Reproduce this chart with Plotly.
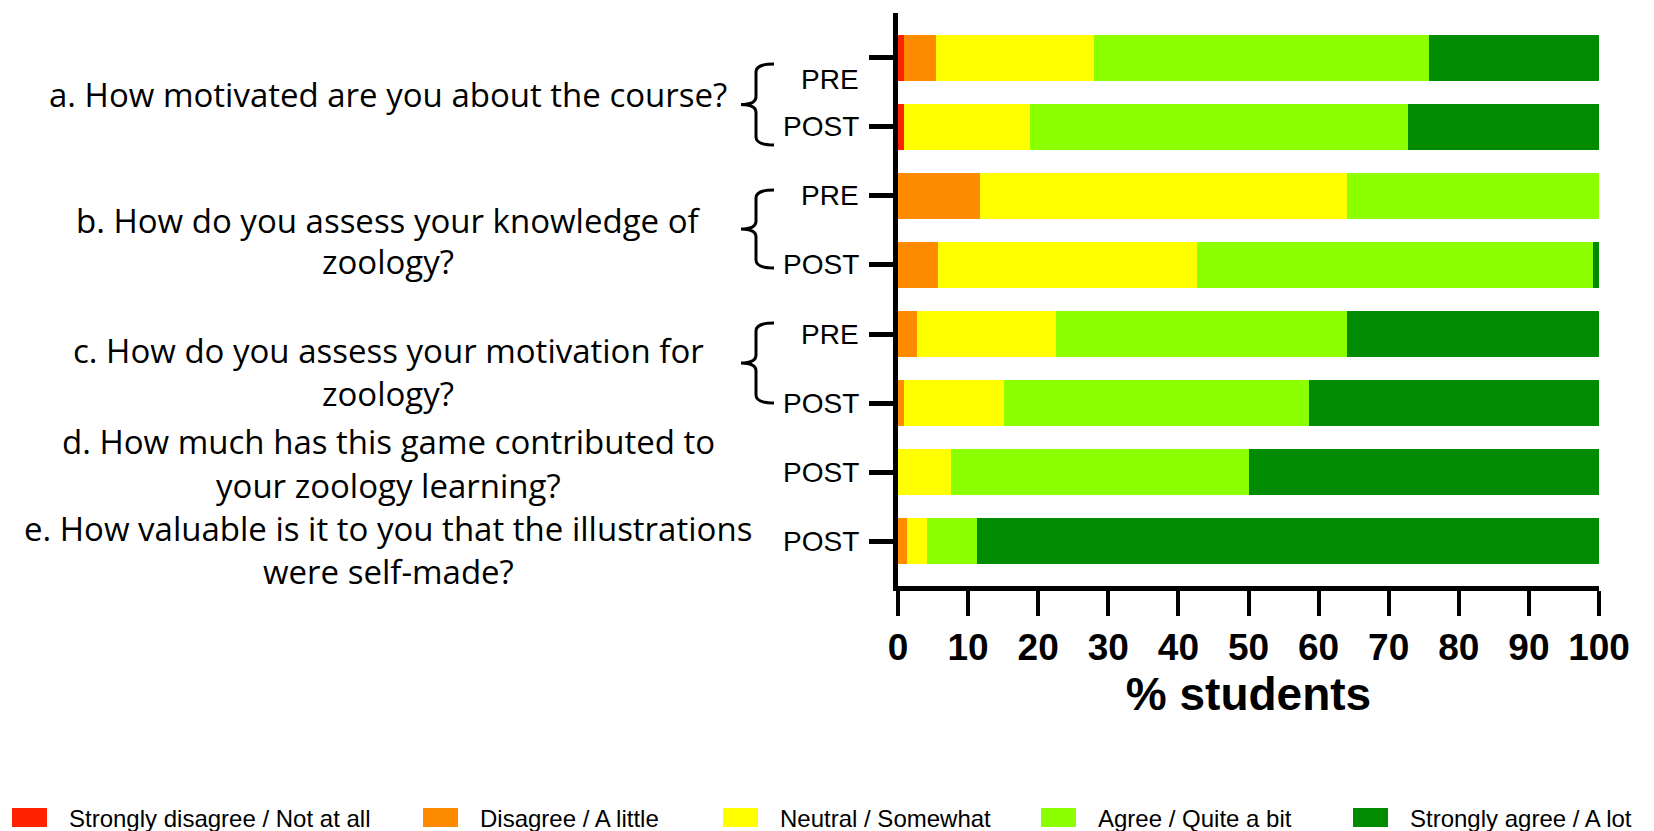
import plotly.graph_objects as go

# rows of the chart, top to bottom
rows = ["a PRE", "a POST", "b PRE", "b POST", "c PRE", "c POST", "d POST", "e POST"]
time_labels = ["PRE", "POST", "PRE", "POST", "PRE", "POST", "POST", "POST"]

categories = [
    "Strongly disagree / Not at all",
    "Disagree / A little",
    "Neutral / Somewhat",
    "Agree / Quite a bit",
    "Strongly agree / A lot",
]
colors = ["#FF2200", "#FF8C00", "#FFFF00", "#8CFF00", "#008B00"]

strongly_disagree = [0.8, 0.9, 0, 0, 0, 0, 0, 0]
disagree = [4.6, 0, 11.7, 5.7, 2.7, 0.85, 0, 1.3]
neutral = [22.5, 17.9, 52.3, 36.9, 19.8, 14.25, 7.5, 2.9]
agree = [47.8, 53.9, 36.0, 56.5, 41.5, 43.5, 42.5, 7.0]
strongly_agree = [24.3, 27.3, 0, 0.9, 36.0, 41.4, 50.0, 88.8]

questions = [
    ["a. How motivated are you about the course?"],
    ["b. How do you assess your knowledge of", "zoology?"],
    ["c. How do you assess your motivation for", "zoology?"],
    ["d. How much has this game contributed to", "your zoology learning?"],
    ["e. How valuable is it to you that the illustrations", "were self-made?"],
]

series = [strongly_disagree, disagree, neutral, agree, strongly_agree]

W, H = 1654, 831
L, R, T, B = 890, 63, 5, 253
PW, PH = W - L - R, H - T - B


def px_x(px):
    return (px - L) / PW


def px_y(py):
    return (H - B - py) / PH


fig = go.Figure()
for name, vals, col in zip(categories, series, colors):
    fig.add_trace(go.Bar(
        y=rows, x=vals, name=name, orientation="h",
        marker=dict(color=col, line=dict(width=0)),
        showlegend=False,
    ))

# PRE / POST labels
for i, (r, t) in enumerate(zip(rows, time_labels)):
    fig.add_annotation(
        x=px_x(853), xref="paper", y=r, yref="y",
        text=t, showarrow=False, xanchor="right", yanchor="middle",
        yshift=-22 if i == 0 else 0,
        font=dict(family="Liberation Sans", size=28, color="black"),
    )

# question text, one annotation per line
line_y = [[87], [212, 253], [343, 385], [433, 477], [520, 563]]
for q, ys in zip(questions, line_y):
    for txt, py in zip(q, ys):
        fig.add_annotation(
            x=px_x(380), xref="paper", y=px_y(py), yref="paper",
            text=txt, showarrow=False, xanchor="center", yanchor="middle",
            font=dict(family="Open Sans", size=33, color="black"),
        )

# curly braces for the PRE/POST pairs
def brace(top, bot, tip_x=733, spine_x=748, end_x=766, r=8):
    mid = (top + bot) / 2
    pts = [
        ("M", end_x, top),
        ("Q", spine_x, top, spine_x, top + r),
        ("L", spine_x, mid - r),
        ("Q", spine_x, mid, tip_x, mid),
        ("Q", spine_x, mid, spine_x, mid + r),
        ("L", spine_x, bot - r),
        ("Q", spine_x, bot, end_x, bot),
    ]
    out = []
    for p in pts:
        cmd, coords = p[0], p[1:]
        xy = []
        for k in range(0, len(coords), 2):
            xy.append(f"{px_x(coords[k]):.5f},{px_y(coords[k + 1]):.5f}")
        out.append(cmd + " ".join(xy))
    return " ".join(out)


for top, bot in [(56, 137), (182, 260), (315, 395)]:
    fig.add_shape(type="path", path=brace(top, bot), xref="paper", yref="paper",
                  line=dict(color="black", width=3))

# legend drawn by hand
leg_sq = [4, 415, 715, 1033, 1345]
for name, col, x0 in zip(categories, colors, leg_sq):
    fig.add_shape(type="rect", xref="paper", yref="paper",
                  x0=px_x(x0), x1=px_x(x0 + 35), y0=px_y(819), y1=px_y(800),
                  fillcolor=col, line=dict(width=0))
    fig.add_annotation(
        x=px_x(x0 + 55), xref="paper", y=px_y(811), yref="paper",
        text=name, showarrow=False, xanchor="left", yanchor="middle",
        font=dict(family="Liberation Sans", size=24, color="black"),
    )

fig.update_layout(
    barmode="stack",
    bargap=0.333,
    width=W, height=H,
    margin=dict(l=L, r=R, t=T, b=B, pad=0),
    plot_bgcolor="white",
    paper_bgcolor="white",
    font=dict(family="Liberation Sans", color="black"),
    xaxis=dict(
        range=[0, 100],
        tickvals=list(range(0, 101, 10)),
        ticks="outside", ticklen=25, tickwidth=4, tickcolor="black",
        showline=True, linewidth=5, linecolor="black",
        showgrid=False, zeroline=False,
        tickfont=dict(family="Liberation Sans", size=37, weight="bold", color="black"),
        title=dict(text="% students", standoff=12,
                   font=dict(family="Liberation Sans", size=46, weight="bold", color="black")),
    ),
    yaxis=dict(
        categoryorder="array", categoryarray=rows,
        range=[7.65, -0.65],
        ticks="outside", ticklen=24, tickwidth=5, tickcolor="black",
        showline=True, linewidth=5, linecolor="black",
        showticklabels=False, showgrid=False, zeroline=False,
    ),
)

fig.write_html("out.html")
